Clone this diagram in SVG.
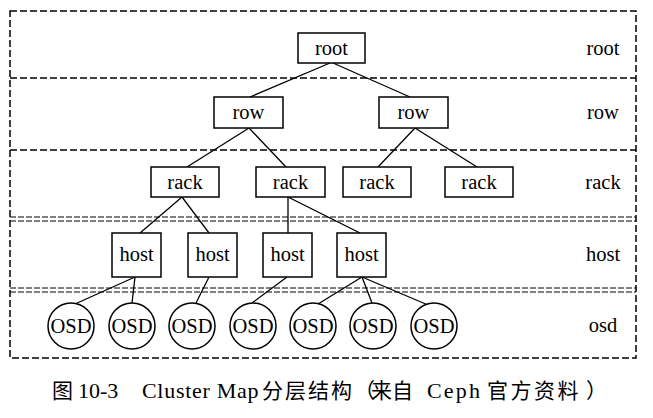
<svg xmlns="http://www.w3.org/2000/svg" width="653" height="418" viewBox="0 0 653 418">
<style>
.bg{fill:#fff}
.frame{fill:none;stroke:#000;stroke-width:1.5;stroke-dasharray:7,3}
.sep{fill:none;stroke:#000;stroke-width:1.5;stroke-dasharray:7,3}
.dsep{fill:none;stroke:#000;stroke-width:1.2;stroke-dasharray:6,2}
.box{fill:#fff;stroke:#000;stroke-width:1.5}
.t{font-family:"Liberation Serif","Times New Roman",serif;font-size:20.5px;fill:#000;text-anchor:middle}
.lbl{font-family:"Liberation Serif","Times New Roman",serif;font-size:20.5px;fill:#000;text-anchor:middle}
.edge{stroke:#000;stroke-width:1.3;fill:none}
.cap{font-family:"Liberation Serif","Noto Sans CJK SC",serif;font-size:22px;fill:#000}
.zh{font-family:"Noto Sans CJK SC","Liberation Serif",sans-serif;font-size:21px}
</style>
<rect class="bg" x="0" y="0" width="653" height="418"/>
<g id="layers">
<rect class="frame" x="10" y="11" width="626" height="347"/>
<line class="sep" x1="10" y1="78" x2="636" y2="78"/>
<line class="sep" x1="10" y1="150" x2="636" y2="150"/>
<line class="dsep" x1="10" y1="217" x2="636" y2="217"/>
<line class="dsep" x1="10" y1="221" x2="636" y2="221"/>
<line class="dsep" x1="10" y1="288" x2="636" y2="288"/>
<line class="dsep" x1="10" y1="292" x2="636" y2="292"/>
<text class="lbl" x="603" y="55">root</text>
<text class="lbl" x="603" y="119">row</text>
<text class="lbl" x="603" y="189">rack</text>
<text class="lbl" x="603" y="261">host</text>
<text class="lbl" x="603" y="332">osd</text>
</g>
<g id="connectors">
<line class="edge" x1="330" y1="63" x2="250" y2="97"/>
<line class="edge" x1="333" y1="63" x2="410" y2="97"/>
<line class="edge" x1="249" y1="128" x2="187" y2="167"/>
<line class="edge" x1="249" y1="128" x2="286" y2="167"/>
<line class="edge" x1="415" y1="128" x2="378" y2="167"/>
<line class="edge" x1="415" y1="128" x2="477" y2="167"/>
<line class="edge" x1="182" y1="197" x2="140" y2="233"/>
<line class="edge" x1="182" y1="197" x2="209" y2="233"/>
<line class="edge" x1="288" y1="197" x2="288" y2="233"/>
<line class="edge" x1="288" y1="197" x2="360" y2="233"/>
<line class="edge" x1="135" y1="277" x2="75" y2="304"/>
<line class="edge" x1="135" y1="277" x2="132" y2="303"/>
<line class="edge" x1="209" y1="277" x2="196" y2="303"/>
<line class="edge" x1="287" y1="277" x2="252" y2="303"/>
<line class="edge" x1="362" y1="277" x2="318" y2="304"/>
<line class="edge" x1="362" y1="277" x2="372" y2="303"/>
<line class="edge" x1="362" y1="277" x2="428" y2="305"/>
</g>
<g id="root"><rect class="box" x="298" y="33" width="67" height="30"/><text class="t" x="331.5" y="55">root</text></g>
<g id="row1"><rect class="box" x="214" y="97" width="69" height="31"/><text class="t" x="248.5" y="119">row</text></g>
<g id="row2"><rect class="box" x="379" y="97" width="69" height="31"/><text class="t" x="413.5" y="119">row</text></g>
<g id="rack1"><rect class="box" x="151" y="167" width="68" height="30"/><text class="t" x="185" y="189">rack</text></g>
<g id="rack2"><rect class="box" x="256" y="167" width="69" height="30"/><text class="t" x="290.5" y="189">rack</text></g>
<g id="rack3"><rect class="box" x="343" y="167" width="68" height="30"/><text class="t" x="377" y="189">rack</text></g>
<g id="rack4"><rect class="box" x="445" y="167" width="68" height="30"/><text class="t" x="479" y="189">rack</text></g>
<g id="host1"><rect class="box" x="112" y="233" width="49" height="44"/><text class="t" x="136.5" y="261">host</text></g>
<g id="host2"><rect class="box" x="188" y="233" width="49" height="44"/><text class="t" x="212.5" y="261">host</text></g>
<g id="host3"><rect class="box" x="263" y="233" width="49" height="44"/><text class="t" x="287.5" y="261">host</text></g>
<g id="host4"><rect class="box" x="337" y="233" width="49" height="44"/><text class="t" x="361.5" y="261">host</text></g>
<g id="osd1"><circle class="box" cx="71" cy="326" r="23"/><text class="t" x="71" y="333">OSD</text></g>
<g id="osd2"><circle class="box" cx="132" cy="326" r="23"/><text class="t" x="132" y="333">OSD</text></g>
<g id="osd3"><circle class="box" cx="192" cy="326" r="23"/><text class="t" x="192" y="333">OSD</text></g>
<g id="osd4"><circle class="box" cx="253" cy="326" r="23"/><text class="t" x="253" y="333">OSD</text></g>
<g id="osd5"><circle class="box" cx="313" cy="326" r="23"/><text class="t" x="313" y="333">OSD</text></g>
<g id="osd6"><circle class="box" cx="373" cy="326" r="23"/><text class="t" x="373" y="333">OSD</text></g>
<g id="osd7"><circle class="box" cx="434" cy="326" r="23"/><text class="t" x="434" y="333">OSD</text></g>
<g id="caption">
<text class="cap" y="398"><tspan class="zh" x="52">图</tspan><tspan x="78">10-3</tspan><tspan x="142" letter-spacing="0.7">Cluster Map</tspan><tspan class="zh" x="262" letter-spacing="2">分层结构</tspan><tspan class="zh" letter-spacing="-4">（</tspan><tspan class="zh" letter-spacing="0">来自</tspan><tspan x="427" letter-spacing="2.2">Ceph</tspan><tspan class="zh" x="487" letter-spacing="2.5">官方资料</tspan><tspan class="zh" dx="5">）</tspan></text>
</g>
</svg>
